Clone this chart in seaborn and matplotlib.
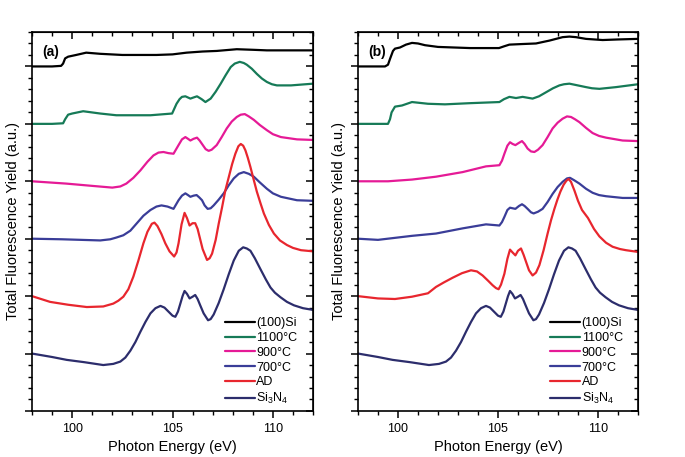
import numpy as np
import pandas as pd
import matplotlib
matplotlib.use("Agg")
import matplotlib.pyplot as plt
from matplotlib.ticker import MultipleLocator, NullFormatter
import seaborn as sns

# sample names (legend order) and line colours
samples = ["(100)Si", "1100°C", "900°C", "700°C", "AD", "Si$_3$N$_4$"]
colors = ["#000000", "#167a57", "#e51a96", "#3a3d98", "#e8262e", "#2c2d6c"]

# ---- panel (a) readings: photon energy (eV) / offset TFY (a.u.) ----
a_si_x = [98, 99.0, 99.45, 99.55, 99.65, 99.8, 100.2, 100.7, 101.4, 102.5, 104.2, 105.0,
          105.7, 106.5, 107.2, 108.2, 109.0, 109.7, 111.0, 112]
a_si_y = [6.0, 6.0, 6.01, 6.05, 6.14, 6.17, 6.2, 6.24, 6.22, 6.2, 6.2, 6.21,
          6.24, 6.26, 6.27, 6.3, 6.29, 6.28, 6.28, 6.28]

a_1100_x = [98, 99.0, 99.55, 99.65, 99.8, 100.0, 100.55, 101.4, 102.2, 103.9, 104.98, 105.2,
            105.35, 105.47, 105.64, 105.89, 106.05, 106.22, 106.45, 106.64, 106.9, 107.15,
            107.4, 107.65, 107.9, 108.1, 108.35, 108.55, 108.7, 108.95, 109.2, 109.45,
            109.7, 109.95, 110.2, 110.9, 112]
a_1100_y = [5.0, 5.0, 5.01, 5.08, 5.16, 5.18, 5.22, 5.18, 5.15, 5.15, 5.18, 5.35,
            5.43, 5.47, 5.48, 5.44, 5.46, 5.48, 5.43, 5.38, 5.44, 5.56,
            5.70, 5.85, 5.99, 6.05, 6.08, 6.06, 6.03, 5.96, 5.87, 5.79,
            5.73, 5.69, 5.67, 5.67, 5.70]

a_900_x = [98, 99.7, 101.0, 102.0, 102.4, 102.7, 103.05, 103.4, 103.75, 104.05, 104.3, 104.55,
           104.8, 105.05, 105.3, 105.47, 105.64, 105.77, 105.89, 106.05, 106.22, 106.35,
           106.47, 106.65, 106.8, 106.95, 107.2, 107.45, 107.7, 107.95, 108.2, 108.4,
           108.6, 108.8, 109.05, 109.35, 109.7, 110.0, 110.4, 111.2, 112]
a_900_y = [4.0, 3.96, 3.92, 3.89, 3.91, 3.96, 4.06, 4.19, 4.34, 4.45, 4.50, 4.51,
           4.49, 4.48, 4.63, 4.73, 4.77, 4.74, 4.71, 4.74, 4.76, 4.71,
           4.65, 4.56, 4.53, 4.55, 4.63, 4.77, 4.92, 5.04, 5.12, 5.16,
           5.17, 5.13, 5.07, 4.98, 4.89, 4.82, 4.77, 4.73, 4.72]

a_700_x = [98, 99.5, 101.4, 101.9, 102.2, 102.55, 102.9, 103.2, 103.55, 103.9, 104.2, 104.45,
           104.75, 105.05, 105.3, 105.47, 105.64, 105.77, 105.89, 106.05, 106.2, 106.33,
           106.47, 106.6, 106.75, 106.9, 107.05, 107.3, 107.55, 107.8, 108.05, 108.3,
           108.55, 108.8, 109.05, 109.35, 109.7, 110.0, 110.4, 111.2, 112]
a_700_y = [3.0, 2.99, 2.97, 2.99, 3.02, 3.06, 3.14, 3.26, 3.40, 3.50, 3.56, 3.58,
           3.56, 3.52, 3.67, 3.75, 3.79, 3.76, 3.73, 3.75, 3.76, 3.72,
           3.67, 3.58, 3.52, 3.53, 3.58, 3.68, 3.79, 3.93, 4.05, 4.13,
           4.16, 4.13, 4.08, 3.98, 3.87, 3.79, 3.73, 3.67, 3.66]

a_ad_x = [98, 98.9, 99.8, 100.73, 101.55, 102.05, 102.3, 102.55, 102.8, 103.05, 103.3, 103.55,
          103.75, 103.97, 104.1, 104.25, 104.45, 104.64, 104.85, 105.08, 105.2, 105.3,
          105.45, 105.6, 105.72, 105.85, 106.0, 106.13, 106.25, 106.35, 106.5, 106.72,
          106.85, 106.97, 107.15, 107.3, 107.47, 107.63, 107.8, 107.97, 108.13, 108.28,
          108.4, 108.52, 108.63, 108.75, 108.88, 109.05, 109.2, 109.38, 109.55, 109.8,
          110.05, 110.35, 110.7, 111.0, 111.4, 112]
a_ad_y = [2.0, 1.90, 1.85, 1.81, 1.82, 1.87, 1.92, 1.99, 2.12, 2.34, 2.62, 2.92,
          3.12, 3.26, 3.28, 3.22, 3.08, 2.92, 2.78, 2.69, 2.76, 2.92,
          3.25, 3.45, 3.36, 3.23, 3.27, 3.27, 3.17, 3.03, 2.82, 2.63,
          2.66, 2.74, 2.98, 3.26, 3.55, 3.84, 4.07, 4.30, 4.48, 4.61,
          4.65, 4.62, 4.54, 4.41, 4.25, 4.02, 3.82, 3.62, 3.44, 3.24,
          3.09, 2.97, 2.89, 2.84, 2.80, 2.78]

# Si3N4 reference, same in both panels
nit_x = [98, 99.0, 99.73, 100.6, 101.55, 102.05, 102.4, 102.65, 102.9, 103.15, 103.4, 103.65,
         103.9, 104.15, 104.4, 104.6, 104.8, 105.0, 105.14, 105.27, 105.39, 105.5,
         105.6, 105.72, 105.85, 106.0, 106.13, 106.25, 106.38, 106.55, 106.77, 106.9,
         107.05, 107.3, 107.55, 107.8, 108.05, 108.3, 108.52, 108.7, 108.88, 109.1,
         109.38, 109.65, 109.88, 110.1, 110.38, 110.7, 111.05, 111.5, 112]
nit_y = [1.0, 0.94, 0.89, 0.85, 0.80, 0.82, 0.86, 0.93, 1.05, 1.20, 1.38, 1.55,
         1.70, 1.79, 1.83, 1.80, 1.73, 1.66, 1.64, 1.73, 1.87, 2.00,
         2.09, 2.04, 1.96, 1.99, 2.02, 1.95, 1.84, 1.70, 1.58, 1.60,
         1.68, 1.88, 2.12, 2.38, 2.62, 2.79, 2.85, 2.83, 2.79, 2.66,
         2.47, 2.29, 2.15, 2.06, 1.98, 1.90, 1.84, 1.79, 1.76]

# ---- panel (b) readings ----
b_si_x = [98, 99.35, 99.5, 99.6, 99.75, 99.85, 100.1, 100.4, 100.7, 101.0, 101.35, 102.0,
          103.6, 105.05, 105.3, 105.57, 106.2, 106.9, 107.3, 107.57, 107.9, 108.23, 108.57,
          108.9, 109.4, 110.23, 111.0, 112]
b_si_y = [6.0, 6.0, 6.03, 6.13, 6.27, 6.31, 6.33, 6.38, 6.41, 6.40, 6.37, 6.34,
          6.32, 6.32, 6.35, 6.38, 6.39, 6.40, 6.43, 6.45, 6.48, 6.51, 6.52,
          6.51, 6.48, 6.46, 6.47, 6.48]

b_1100_x = [98, 99.5, 99.6, 99.68, 99.85, 100.2, 100.7, 101.5, 102.35, 103.57, 105.07, 105.3,
            105.57, 105.9, 106.23, 106.73, 107.05, 107.4, 107.75, 108.07, 108.3, 108.57,
            108.85, 109.4, 109.7, 110.07, 110.9, 112]
b_1100_y = [5.0, 5.0, 5.08, 5.2, 5.30, 5.32, 5.38, 5.35, 5.34, 5.36, 5.38, 5.43,
            5.47, 5.45, 5.47, 5.44, 5.48, 5.55, 5.62, 5.67, 5.69, 5.70,
            5.68, 5.64, 5.62, 5.61, 5.64, 5.69]

b_900_x = [98, 99.5, 100.7, 101.9, 103.23, 104.4, 105.07, 105.2, 105.32, 105.47, 105.6, 105.73,
           105.87, 106.05, 106.2, 106.33, 106.48, 106.65, 106.82, 107.0, 107.23, 107.48,
           107.73, 107.98, 108.23, 108.45, 108.65, 108.85, 109.07, 109.4, 109.73, 110.05,
           110.4, 111.23, 112]
b_900_y = [4.0, 4.0, 4.03, 4.08, 4.16, 4.26, 4.28, 4.36, 4.48, 4.62, 4.68, 4.65,
           4.63, 4.67, 4.70, 4.65, 4.57, 4.52, 4.51, 4.55, 4.63, 4.77,
           4.92, 5.02, 5.09, 5.13, 5.12, 5.08, 5.03, 4.93, 4.84, 4.79,
           4.76, 4.71, 4.70]

b_700_x = [98, 99.0, 100.7, 101.9, 103.23, 104.4, 105.07, 105.2, 105.32, 105.47, 105.6, 105.73,
           105.87, 106.05, 106.2, 106.33, 106.48, 106.65, 106.78, 107.0, 107.23, 107.48,
           107.73, 107.98, 108.23, 108.45, 108.6, 108.8, 109.07, 109.4, 109.73, 110.05,
           110.4, 111.23, 112]
b_700_y = [3.0, 2.98, 3.05, 3.09, 3.18, 3.25, 3.23, 3.29, 3.38, 3.50, 3.54, 3.53,
           3.52, 3.57, 3.60, 3.57, 3.52, 3.46, 3.44, 3.47, 3.52, 3.64,
           3.78, 3.90, 3.99, 4.05, 4.06, 4.02, 3.96, 3.87, 3.80, 3.76,
           3.74, 3.71, 3.71]

b_ad_x = [98, 99.0, 99.85, 100.7, 101.5, 101.9, 102.3, 102.73, 103.2, 103.65, 103.95, 104.23,
          104.5, 104.73, 104.9, 105.03, 105.15, 105.32, 105.47, 105.6, 105.73, 105.87,
          106.0, 106.15, 106.28, 106.4, 106.55, 106.73, 106.9, 107.07, 107.28, 107.48,
          107.65, 107.82, 107.97, 108.12, 108.28, 108.42, 108.53, 108.65, 108.82, 109.0,
          109.2, 109.5, 109.8, 110.07, 110.4, 110.73, 111.1, 111.4, 112]
b_ad_y = [2.0, 1.96, 1.95, 1.99, 2.05, 2.16, 2.24, 2.32, 2.40, 2.45, 2.43, 2.36,
          2.27, 2.19, 2.14, 2.12, 2.20, 2.39, 2.65, 2.81, 2.76, 2.71,
          2.79, 2.83, 2.72, 2.60, 2.45, 2.36, 2.41, 2.54, 2.80, 3.09,
          3.32, 3.52, 3.68, 3.82, 3.94, 4.01, 4.04, 3.99, 3.84, 3.66,
          3.50, 3.36, 3.17, 3.04, 2.93, 2.86, 2.82, 2.80, 2.77]

panel_a = [(a_si_x, a_si_y), (a_1100_x, a_1100_y), (a_900_x, a_900_y),
           (a_700_x, a_700_y), (a_ad_x, a_ad_y), (nit_x, nit_y)]
panel_b = [(b_si_x, b_si_y), (b_1100_x, b_1100_y), (b_900_x, b_900_y),
           (b_700_x, b_700_y), (b_ad_x, b_ad_y), (nit_x, nit_y)]


def build_frame(curves):
    parts = []
    for name, (x, y) in zip(samples, curves):
        parts.append(pd.DataFrame({"energy": x, "tfy": y, "sample": name}))
    return pd.concat(parts, ignore_index=True)


sns.set_style("ticks", {"axes.edgecolor": "black", "xtick.color": "black",
                        "ytick.color": "black", "text.color": "black",
                        "axes.labelcolor": "black"})
plt.rcParams["font.family"] = ["Liberation Sans", "DejaVu Sans"]
plt.rcParams["mathtext.fontset"] = "custom"
plt.rcParams["mathtext.rm"] = "Liberation Sans"
plt.rcParams["mathtext.default"] = "regular"

fig = plt.figure(figsize=(6.85, 4.57), dpi=100)
axes = [fig.add_axes([0.0467, 0.1007, 0.4103, 0.8293]),
        fig.add_axes([0.5226, 0.1007, 0.4088, 0.8293])]

for ax, curves, tag in zip(axes, [panel_a, panel_b], ["(a)", "(b)"]):
    df = build_frame(curves)
    sns.lineplot(data=df, x="energy", y="tfy", hue="sample", hue_order=samples,
                 palette=colors, estimator=None, sort=False, linewidth=1.6, ax=ax)

    ax.set_xlim(98, 112)
    ax.set_ylim(0, 6.6)
    ax.xaxis.set_major_locator(MultipleLocator(5))
    ax.xaxis.set_minor_locator(MultipleLocator(1))
    ax.yaxis.set_major_locator(MultipleLocator(1))
    ax.yaxis.set_minor_locator(MultipleLocator(0.2))
    ax.yaxis.set_major_formatter(NullFormatter())
    ax.tick_params(which="major", direction="out", length=5, width=1.1, labelsize=9)
    ax.tick_params(which="minor", direction="out", length=3, width=1.0)
    for sp in ax.spines.values():
        sp.set_visible(True)
        sp.set_linewidth(1.2)
        sp.set_color("black")

    # mirrored ticks on top and right, pointing inward
    top = ax.secondary_xaxis("top")
    top.xaxis.set_major_locator(MultipleLocator(5))
    top.xaxis.set_minor_locator(MultipleLocator(1))
    top.tick_params(which="major", direction="in", length=5, width=1.1, labeltop=False)
    top.tick_params(which="minor", direction="in", length=3, width=1.0)
    right = ax.secondary_yaxis("right")
    right.yaxis.set_major_locator(MultipleLocator(1))
    right.yaxis.set_minor_locator(MultipleLocator(0.2))
    right.tick_params(which="major", direction="in", length=5, width=1.1, labelright=False)
    right.tick_params(which="minor", direction="in", length=3, width=1.0)

    ax.set_xlabel("Photon Energy (eV)", fontsize=10.5, labelpad=4)
    ax.set_ylabel("Total Fluorescence Yield (a.u.)", fontsize=10.5, labelpad=0)
    ax.text(0.036, 0.947, tag, transform=ax.transAxes, fontsize=10, fontweight="bold",
            va="center", ha="left")

    sns.move_legend(ax, "upper left", bbox_to_anchor=(0.685, 0.247), frameon=False,
                    title=None, fontsize=9, handlelength=2.4, handletextpad=0.15,
                    labelspacing=0.22, borderpad=0, borderaxespad=0)

fig.savefig("out.png", dpi=100)
